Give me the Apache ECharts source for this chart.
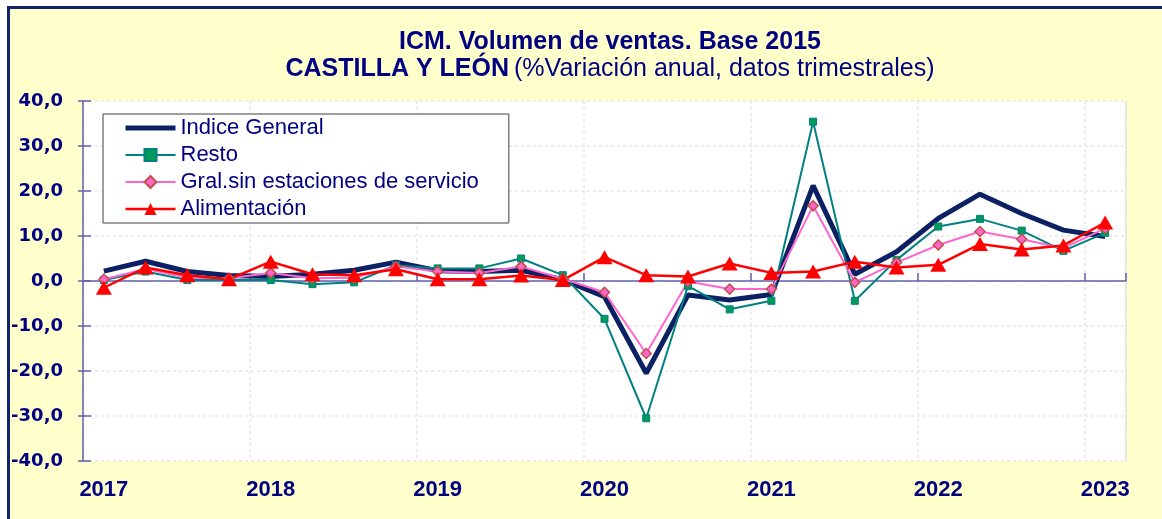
<!DOCTYPE html>
<html>
<head>
<meta charset="utf-8">
<script src="https://cdn.jsdelivr.net/npm/echarts@6/dist/echarts.min.js"></script>
<style>
  html, body { margin: 0; padding: 0; background: #fff; overflow: hidden; }
  #frame { position: absolute; left: 7px; top: 6px; width: 1300px; height: 600px;
           background: #ffffcc; border-top: 3px solid #14246a; border-left: 3px solid #14246a; }
  #chart { position: absolute; left: 0; top: 0; width: 1220px; height: 519px; }
</style>
</head>
<body>
<div id="frame"></div>
<div id="chart"></div>
<script>
var quarters = [
  "T1 2017", "T2 2017", "T3 2017", "T4 2017",
  "T1 2018", "T2 2018", "T3 2018", "T4 2018",
  "T1 2019", "T2 2019", "T3 2019", "T4 2019",
  "T1 2020", "T2 2020", "T3 2020", "T4 2020",
  "T1 2021", "T2 2021", "T3 2021", "T4 2021",
  "T1 2022", "T2 2022", "T3 2022", "T4 2022",
  "T1 2023"
];

var indiceGeneral = [2.2, 4.4, 2.1, 1.2, 1.0, 1.5, 2.4, 4.2, 2.3, 2.1, 2.4, 0.3, -3.5, -20.5, -3.1, -4.2, -3.0, 21.2, 1.5, 6.5, 13.9, 19.3, 15.0, 11.3, 9.9];
var resto = [0.2, 2.1, 0.2, 0.3, 0.2, -0.7, -0.3, 3.5, 2.8, 2.8, 5.0, 1.3, -8.4, -30.5, -1.1, -6.3, -4.4, 35.4, -4.4, 4.7, 12.1, 13.8, 11.2, 6.7, 10.7];
var gralSinEstaciones = [0.4, 2.7, 0.7, 0.6, 1.8, 0.6, 0.7, 3.2, 2.1, 1.8, 3.2, 0.5, -2.5, -16.1, -0.1, -1.8, -1.8, 16.7, -0.3, 4.1, 8.0, 11.0, 9.3, 7.3, 11.7];
var alimentacion = [-1.5, 3.0, 1.3, 0.4, 4.3, 1.5, 1.3, 2.6, 0.4, 0.4, 1.2, 0.2, 5.3, 1.3, 1.0, 3.9, 1.8, 2.1, 4.3, 3.0, 3.6, 8.2, 7.0, 7.9, 13.0];

var navy = "#000080";
var axisBlue = "#6060b0";
var gridGrey = "#e6e6e6";
var arial = "Arial, Liberation Sans";

var chart = echarts.init(document.getElementById("chart"));

chart.setOption({
  animation: false,
  title: {
    left: "center",
    top: 24,
    text: "{a|ICM. Volumen de ventas. Base 2015}\n{b|CASTILLA Y LEÓN} {c|(%Variación anual, datos trimestrales)}",
    textStyle: {
      rich: {
        a: { fontFamily: arial, fontWeight: "bold", fontSize: 25, color: navy, lineHeight: 27 },
        b: { fontFamily: arial, fontWeight: "bold", fontSize: 25, color: navy, lineHeight: 27 },
        c: { fontFamily: arial, fontWeight: "normal", fontSize: 25, color: navy, lineHeight: 27 }
      }
    }
  },
  legend: {
    orient: "vertical",
    left: 103,
    top: 114,
    padding: [3, 30, 3, 20],
    itemWidth: 50,
    itemHeight: 15,
    itemGap: 5,
    backgroundColor: "#fff",
    borderColor: "#404040",
    borderWidth: 1,
    borderRadius: 0,
    textStyle: { fontFamily: arial, fontSize: 22, lineHeight: 22, color: navy },
    data: [
      { name: "Indice General", itemStyle: { opacity: 0 }, lineStyle: { width: 5 } },
      { name: "Resto", lineStyle: { width: 2 } },
      { name: "Gral.sin estaciones de servicio", lineStyle: { width: 2 } },
      { name: "Alimentación", lineStyle: { width: 2.5 } }
    ]
  },
  grid: {
    left: 83, right: 94, top: 101, bottom: 58,
    show: true, backgroundColor: "#fff", borderWidth: 0
  },
  xAxis: [{
    type: "category",
    data: quarters,
    boundaryGap: true,
    position: "bottom",
    axisLine: { show: false, onZero: false },
    axisTick: { show: false },
    axisLabel: {
      interval: 3,
      margin: 18,
      fontFamily: arial,
      fontWeight: "bold",
      fontSize: 22,
      color: navy,
      formatter: function (v) { return v.split(" ")[1]; }
    },
    splitLine: { show: true, interval: 3, lineStyle: { color: gridGrey, type: [3, 3], width: 1.5 } }
  }, {
    type: "category",
    data: quarters,
    boundaryGap: true,
    position: "bottom",
    axisLine: { show: true, onZero: true, lineStyle: { color: axisBlue, width: 1.5 } },
    axisTick: {
      show: true, inside: true, length: 8,
      interval: function (i) { return i % 4 === 0 && i > 0 && i < quarters.length; },
      lineStyle: { color: axisBlue, width: 1.5 }
    },
    axisLabel: { show: false },
    splitLine: { show: false }
  }],
  yAxis: [{
    type: "value",
    min: -40, max: 40, interval: 10,
    position: "left",
    axisLine: { show: true, lineStyle: { color: axisBlue, width: 1.5 } },
    axisTick: { show: true, length: 5, lineStyle: { color: axisBlue, width: 1.5 } },
    axisLabel: {
      margin: 20,
      fontFamily: "DejaVu Sans",
      fontWeight: "bold",
      fontSize: 18,
      color: navy,
      formatter: function (v) { return v.toFixed(1).replace(".", ","); }
    },
    splitLine: { show: true, lineStyle: { color: gridGrey, type: [3, 3], width: 1.5 } }
  }, {
    type: "value",
    min: -40, max: 40, interval: 10,
    position: "left",
    axisLine: { show: false },
    axisTick: { show: true, inside: true, length: 8, lineStyle: { color: axisBlue, width: 1.5 } },
    axisLabel: { show: false },
    splitLine: { show: false }
  }, {
    type: "value",
    min: -40, max: 40, interval: 10,
    position: "right",
    axisLine: { show: true, lineStyle: { color: gridGrey, type: [3, 3], width: 2 } },
    axisTick: { show: false },
    axisLabel: { show: false },
    splitLine: { show: false }
  }],
  series: [{
    name: "Indice General",
    type: "line",
    data: indiceGeneral,
    symbol: "none",
    color: "#0c2164",
    lineStyle: { color: "#0c2164", width: 5 }
  }, {
    name: "Resto",
    type: "line",
    data: resto,
    symbol: "rect",
    symbolSize: 7,
    color: "#00995c",
    itemStyle: { color: "#00995c", borderColor: "#008080", borderWidth: 1 },
    lineStyle: { color: "#008080", width: 2 }
  }, {
    name: "Gral.sin estaciones de servicio",
    type: "line",
    data: gralSinEstaciones,
    symbol: "diamond",
    symbolSize: 10,
    color: "#ff66cc",
    itemStyle: { color: "#ff66cc", borderColor: "#c0504d", borderWidth: 1.5 },
    lineStyle: { color: "#ff66cc", width: 2 }
  }, {
    name: "Alimentación",
    type: "line",
    data: alimentacion,
    symbol: "triangle",
    symbolSize: [16, 14],
    color: "#ff0000",
    itemStyle: { color: "#ff0000" },
    lineStyle: { color: "#ff0000", width: 2.5 }
  }]
});
</script>
</body>
</html>
